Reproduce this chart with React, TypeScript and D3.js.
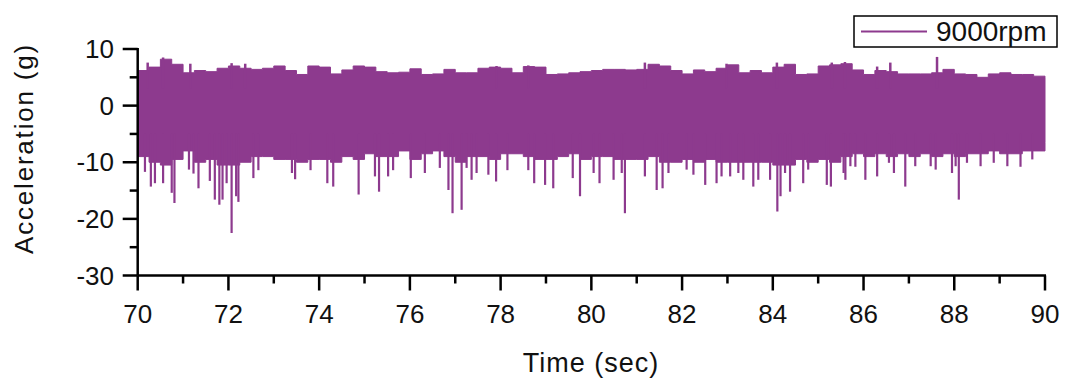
import React from "react";
import * as d3 from "d3";

// ---- data (envelope of a dense vibration signal) ----
const envTimes: number[] = d3.range(0, 81).map((i) => 70 + i * 0.25);

const upperEnvelope: number[] = [
  6.2, 6.8, 8.2, 7.3, 5.8, 6.2, 6.0, 6.6, 7.0, 6.6, 6.4, 6.6, 7.0, 6.2, 5.5, 7.0,
  6.8, 5.6, 6.3, 7.0, 6.8, 6.0, 5.8, 5.9, 6.5, 5.5, 5.6, 6.4, 5.8, 5.8, 6.6, 6.8,
  6.6, 5.8, 6.9, 6.8, 5.5, 5.6, 5.8, 6.0, 6.2, 6.4, 6.4, 6.3, 6.4, 7.3, 7.0, 6.2,
  5.6, 6.3, 6.0, 6.6, 7.2, 5.8, 6.2, 5.8, 6.8, 7.3, 5.5, 5.6, 7.0, 7.2, 7.4, 6.3,
  5.5, 6.2, 6.0, 5.6, 5.6, 5.6, 5.8, 6.4, 5.6, 5.5, 5.0, 5.6, 5.8, 5.5, 5.5, 5.2,
  5.0,
];

const lowerEnvelope: number[] = [
  -9.0, -10.0, -10.5, -9.5, -8.0, -10.0, -9.5, -10.5, -10.5, -10.0, -9.0, -9.0,
  -9.5, -9.5, -10.0, -9.5, -9.5, -10.0, -9.0, -9.5, -8.5, -9.0, -9.0, -8.0, -9.5,
  -8.5, -8.0, -9.0, -10.0, -9.0, -9.0, -9.5, -8.5, -8.5, -9.0, -9.5, -9.5, -9.0,
  -8.5, -9.5, -9.0, -9.0, -9.5, -9.5, -9.5, -9.0, -10.0, -10.0, -9.5, -10.0, -9.5,
  -10.0, -10.0, -10.0, -10.0, -10.0, -10.5, -10.5, -9.5, -10.0, -9.5, -10.0, -9.0,
  -8.5, -9.0, -8.5, -9.0, -8.5, -9.0, -8.5, -9.0, -8.5, -9.0, -8.5, -8.5, -8.0,
  -8.5, -8.5, -8.0, -8.0, -6.5,
];

const dipTimes: number[] = [
  70.16, 70.29, 70.38, 70.56, 70.75, 70.81, 71.13, 71.23, 71.34, 71.59, 71.7, 71.8,
  71.87, 71.96, 72.07, 72.17, 72.22, 72.55, 72.66, 73.4, 73.47, 73.81, 74.18, 74.31,
  74.87, 75.23, 75.32, 75.52, 75.63, 76.02, 76.33, 76.66, 76.85, 76.94, 77.14, 77.25,
  77.36, 77.47, 77.73, 77.9, 78.15, 78.61, 78.74, 78.98, 79.16, 79.59, 79.75, 80.05,
  80.18, 80.49, 80.67, 80.74, 81.18, 81.44, 81.57, 81.7, 82.1, 82.25, 82.51, 82.76,
  82.87, 83.06, 83.24, 83.35, 83.57, 83.68, 83.94, 84.1, 84.17, 84.27, 84.38, 84.67,
  84.78, 85.19, 85.28, 85.56, 85.6, 85.71, 85.82, 86.04, 86.3, 86.56, 86.67, 86.92,
  87.14, 87.48, 87.59, 87.95, 88.03, 88.1, 88.28, 88.58, 88.87, 89.17, 89.46, 89.72,
];
const dipValues: number[] = [
  -11.7, -14.3, -13.7, -13.7, -15.4, -17.2, -11.3, -12.0, -14.6, -13.3, -16.6, -17.5,
  -16.6, -13.7, -22.5, -16.0, -17.0, -12.8, -11.4, -11.9, -13.0, -11.4, -13.7, -14.3,
  -15.7, -12.5, -15.2, -12.5, -11.4, -12.8, -11.9, -11.0, -14.9, -19.0, -18.4, -11.0,
  -13.1, -11.9, -12.2, -13.4, -11.4, -11.4, -13.7, -14.0, -14.6, -12.8, -16.0, -11.9,
  -13.7, -13.1, -11.9, -19.0, -12.5, -14.9, -14.6, -11.9, -11.3, -12.2, -14.0, -13.7,
  -12.5, -12.5, -11.9, -13.1, -14.3, -13.1, -13.1, -18.7, -16.0, -11.9, -15.2, -13.7,
  -11.3, -14.0, -14.3, -11.9, -13.1, -10.7, -10.8, -13.1, -12.5, -10.1, -11.9, -14.3,
  -10.7, -10.7, -11.3, -11.9, -10.7, -16.6, -10.1, -10.7, -10.1, -10.7, -10.8, -9.5,
];

const peakTimes: number[] = [70.22, 70.56, 71.16, 72.07, 72.37, 77.91, 78.61, 81.18, 82.98, 84.09, 85.3, 85.59, 86.3, 86.59, 87.62];
const peakValues: number[] = [7.6, 8.5, 7.4, 7.5, 7.4, 7.0, 7.1, 7.6, 7.4, 7.6, 7.6, 7.7, 6.9, 7.6, 8.6];

const xTicks: number[] = [70, 72, 74, 76, 78, 80, 82, 84, 86, 88, 90];
const xMinorTicks: number[] = [71, 73, 75, 77, 79, 81, 83, 85, 87, 89];
const yTicks: number[] = [10, 0, -10, -20, -30];
const yMinorTicks: number[] = [5, -5, -15, -25];

const seriesName = "9000rpm";
const xTitle = "Time (sec)";
const yTitle = "Acceleration (g)";

const COLOR = "#8D3A8E";
const FONT = "'Liberation Sans', Arial, sans-serif";

export default function App() {
  const W = 1066;
  const H = 383;
  const x = d3.scaleLinear().domain([70, 90]).range([137.7, 1045]);
  const y = d3.scaleLinear().domain([-30, 10]).range([275.5, 49]);

  const band = envTimes.map((t, i) => ({ t, hi: upperEnvelope[i], lo: lowerEnvelope[i] }));
  const area = d3
    .area<{ t: number; hi: number; lo: number }>()
    .x((d) => x(d.t))
    .y0((d) => y(d.lo))
    .y1((d) => y(d.hi))
    .curve(d3.curveStepAfter);

  const axisY0 = y(-30);
  const axisX0 = x(70);

  return (
    <svg
      width={W}
      height={H}
      style={{ position: "absolute", left: 0, top: 0, background: "#fff" }}
      fontFamily={FONT}
    >
      {/* signal */}
      <path d={area(band) || ""} fill={COLOR} stroke={COLOR} strokeWidth={1} />
      {dipTimes.map((t, i) => (
        <line key={"d" + i} x1={x(t)} x2={x(t)} y1={y(-5)} y2={y(dipValues[i])} stroke={COLOR} strokeWidth={2.2} />
      ))}
      {peakTimes.map((t, i) => (
        <line key={"p" + i} x1={x(t)} x2={x(t)} y1={y(3)} y2={y(peakValues[i])} stroke={COLOR} strokeWidth={2.5} />
      ))}

      {/* axes */}
      <line x1={axisX0} x2={x(90) + 1} y1={axisY0} y2={axisY0} stroke="#000" strokeWidth={2.5} />
      <line x1={axisX0} x2={axisX0} y1={y(10) - 1} y2={axisY0} stroke="#000" strokeWidth={2.5} />
      {xTicks.map((t) => (
        <g key={"xt" + t}>
          <line x1={x(t)} x2={x(t)} y1={axisY0} y2={axisY0 + 15} stroke="#000" strokeWidth={2.5} />
          <text x={x(t)} y={323} textAnchor="middle" fontSize={26} fill="#111">
            {t}
          </text>
        </g>
      ))}
      {xMinorTicks.map((t) => (
        <line key={"xm" + t} x1={x(t)} x2={x(t)} y1={axisY0} y2={axisY0 + 8} stroke="#000" strokeWidth={2.5} />
      ))}
      {yTicks.map((v) => (
        <g key={"yt" + v}>
          <line x1={axisX0 - 15} x2={axisX0} y1={y(v)} y2={y(v)} stroke="#000" strokeWidth={2.5} />
          <text x={114} y={y(v)} dy="0.35em" textAnchor="end" fontSize={26} fill="#111">
            {v}
          </text>
        </g>
      ))}
      {yMinorTicks.map((v) => (
        <line key={"ym" + v} x1={axisX0 - 8} x2={axisX0} y1={y(v)} y2={y(v)} stroke="#000" strokeWidth={2.5} />
      ))}

      {/* axis titles */}
      <text x={591} y={372} textAnchor="middle" fontSize={27} letterSpacing={1} fill="#111">
        {xTitle}
      </text>
      <text
        transform={`translate(33,${148.5}) rotate(-90)`}
        textAnchor="middle"
        fontSize={26}
        letterSpacing={1.8}
        fill="#111"
      >
        {yTitle}
      </text>

      {/* legend */}
      <rect x={854} y={16} width={203} height={31} fill="#fff" stroke="#000" strokeWidth={1.5} />
      <line x1={861} x2={927} y1={31.5} y2={31.5} stroke={COLOR} strokeWidth={2} />
      <text x={936} y={41} fontSize={28} fill="#111">
        {seriesName}
      </text>
    </svg>
  );
}
